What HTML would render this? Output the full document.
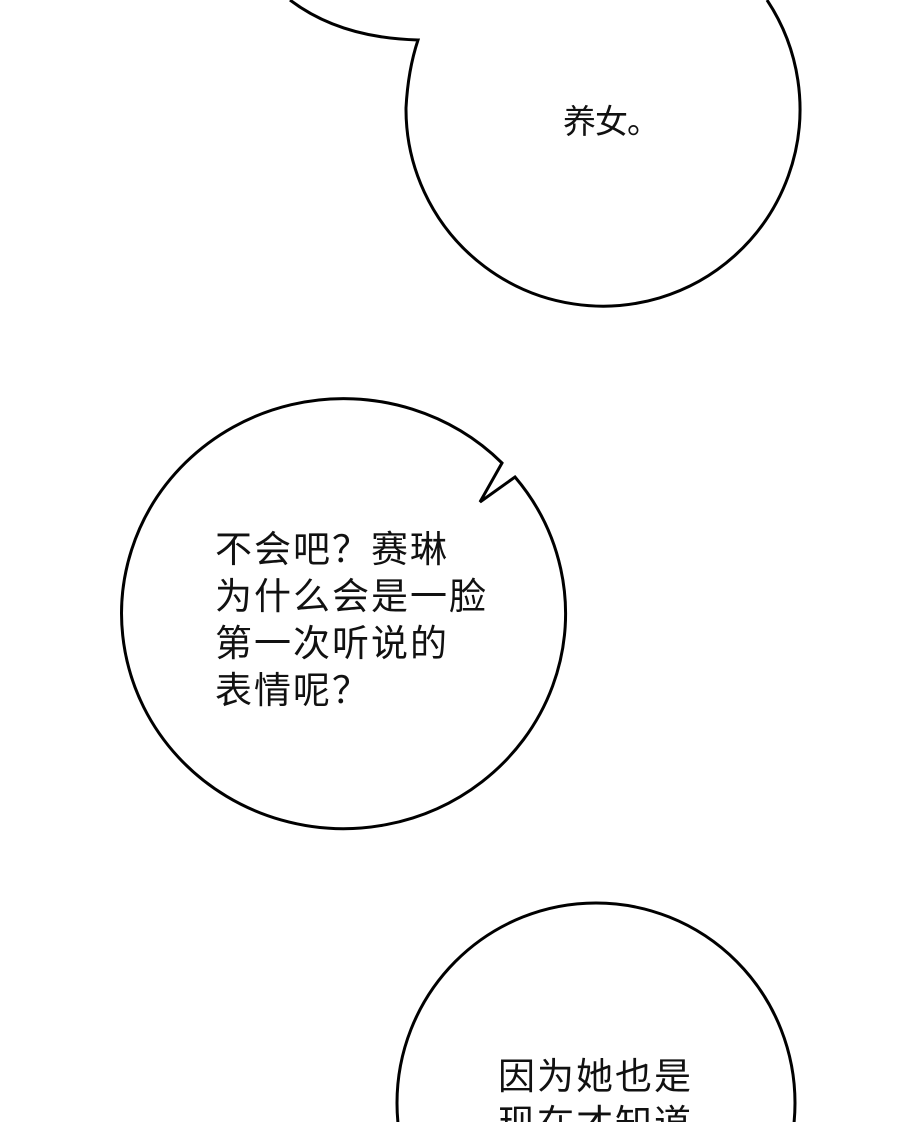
<!DOCTYPE html>
<html><head><meta charset="utf-8"><style>
html,body{margin:0;padding:0}
#w{width:900px;height:1122px;overflow:hidden;background:#fff;position:relative;font-family:"Liberation Sans","Noto Sans CJK SC",sans-serif;color:#111}
svg{position:absolute;left:0;top:0}
.t{position:absolute;white-space:nowrap}
</style></head><body><div id="w">
<svg width="900" height="1122" viewBox="0 0 900 1122">
<g fill="#fff" stroke="#000" stroke-width="3">
<path d="M290,0 Q340,38 418,40 Q408,70 406,108 A197,197 0 1 0 767,0"/>
<path d="M502,463 A222,215 0 1 0 515,477 L480,502 Z"/>
<ellipse cx="596" cy="1103" rx="199" ry="200"/>
</g>
</svg>
<div class="t" style="left:563px;top:95px;font-size:33px;letter-spacing:-1px">养女。</div>
<div class="t" style="left:215px;top:526px;font-size:37px;line-height:47px;letter-spacing:2px">不会吧？赛琳<br>为什么会是一脸<br>第一次听说的<br>表情呢？</div>
<div class="t" style="left:498px;top:1053px;height:69px;overflow:hidden;font-size:37px;line-height:47px;letter-spacing:2px">因为她也是<br>现在才知道</div>
</div></body></html>
